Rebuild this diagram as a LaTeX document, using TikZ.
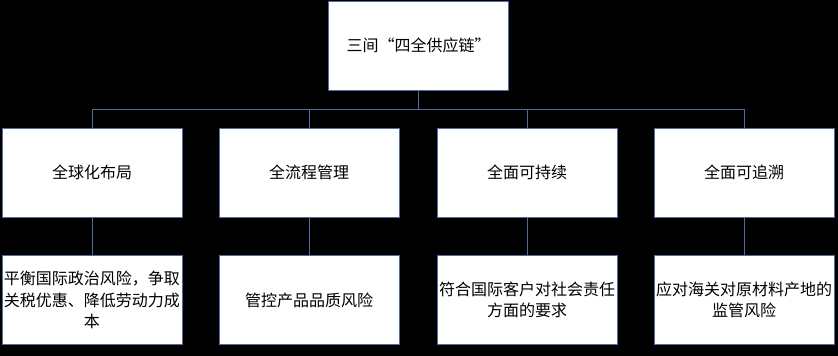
\documentclass[tikz,border=0pt]{standalone}
\usepackage{fontspec}
\setmainfont{Noto Sans CJK SC}
\definecolor{linkblue}{RGB}{84,106,166}

\tikzset{
  chainbox/.style={draw=linkblue,fill=white,line width=1pt,minimum width=180pt,minimum height=89pt,inner sep=1pt,text width=178pt,align=center,font=\fontsize{16}{21.5}\selectfont},
  chainlink/.style={draw=linkblue,line width=1pt}
}

\begin{document}
\begin{tikzpicture}[x=1pt,y=1pt]
\fill[black] (0,0) rectangle (838,-356);
\useasboundingbox (0,0) rectangle (838,-356);
% top box
\node[chainbox] (top) at (418.5,-45.5) {三间“四全供应链”};
\coordinate (bus) at (418.5,-109);
% second row
\node[chainbox] (global) at (92,-172.5) {全球化布局};
\node[chainbox] (process) at (309,-172.5) {全流程管理};
\node[chainbox] (sustain) at (527,-172.5) {全面可持续};
\node[chainbox] (trace) at (744,-172.5) {全面可追溯};
% third row
\node[chainbox] (globalrisk) at (92,-300) {平衡国际政治风险，争取\\关税优惠、降低劳动力成\\本};
\node[chainbox] (processrisk) at (309,-300) {管控产品品质风险};
\node[chainbox] (sustainrisk) at (527,-300) {符合国际客户对社会责任\\方面的要求};
\node[chainbox] (tracerisk) at (744,-300) {应对海关对原材料产地的\\监管风险};
% connectors
\draw[chainlink] (top.south) -- (bus);
\draw[chainlink] (bus) -| (global.north);
\draw[chainlink] (bus) -| (process.north);
\draw[chainlink] (bus) -| (sustain.north);
\draw[chainlink] (bus) -| (trace.north);
\draw[chainlink] (global) -- (globalrisk);
\draw[chainlink] (process) -- (processrisk);
\draw[chainlink] (sustain) -- (sustainrisk);
\draw[chainlink] (trace) -- (tracerisk);
\end{tikzpicture}
\end{document}
